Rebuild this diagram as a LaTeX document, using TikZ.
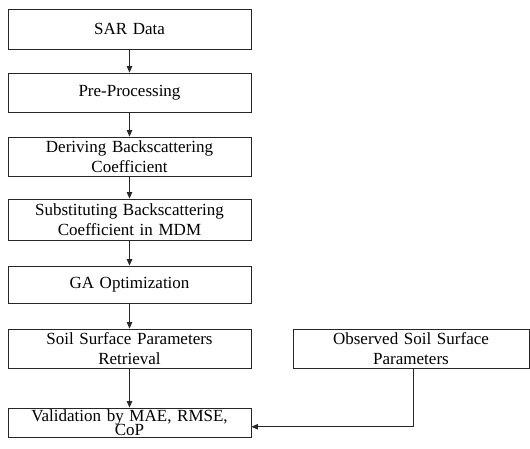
\documentclass[tikz,border=0pt]{standalone}
\usepackage{fontspec}
\setmainfont{Liberation Serif}
\usetikzlibrary{arrows.meta}
\newcommand\mytightlines{\lineskiplimit=-20pt\relax}
\begin{document}
\begin{tikzpicture}[x=1pt,y=-1pt,
  box/.style={draw=black!85, line width=0.9pt, inner sep=0pt, minimum width=243pt,
    text width=236pt, align=center, font=\fontsize{17}{20.5}\selectfont},
  arr/.style={draw=black!85, line width=0.9pt, -{Triangle[length=6.5pt,width=5.5pt]}}]
\useasboundingbox (0,0) rectangle (530,448);
\node[box, minimum height=40pt] (sar) at (129.5,29) {SAR Data};
\node[box, minimum height=39pt] (pre) at (129.5,92.5) {Pre-Processing};
\node[box, minimum height=39pt] (der) at (129.5,156.5) {Deriving Backscattering\\Coefficient};
\node[box, minimum height=41pt] (sub) at (129.5,219.5) {Substituting Backscattering\\Coefficient in MDM};
\node[box, minimum height=37pt] (ga) at (129.5,284.5) {GA Optimization};
\node[box, minimum height=39pt] (soil) at (129.5,348.5) {Soil Surface Parameters\\Retrieval};
\node[box, minimum height=29.5pt,
  font={\fontsize{17}{14.8}\selectfont\mytightlines}] (val) at (129.5,422.75) {Validation by MAE, RMSE,\\CoP\par\vspace{-8pt}};
\node[box, minimum width=236pt, text width=230pt, minimum height=39pt] (obs) at (411,348.5) {Observed Soil Surface\\Parameters};
\draw[arr] (sar) -- (pre);
\draw[arr] (pre) -- (der);
\draw[arr] (der) -- (sub);
\draw[arr] (sub) -- (ga);
\draw[arr] (ga) -- (soil);
\draw[arr] (soil) -- (val);
\draw[arr] ([xshift=2pt]obs.south) |- ([yshift=-4pt]val.east);
\end{tikzpicture}
\end{document}
